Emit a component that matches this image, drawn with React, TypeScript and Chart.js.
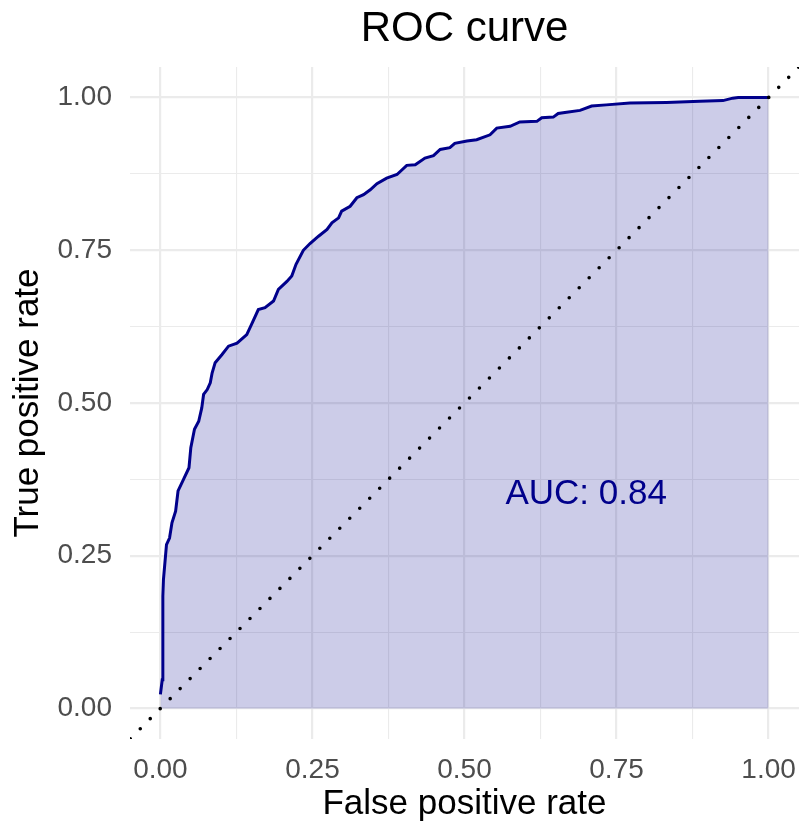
import React, { useEffect, useRef } from "react";
import { Chart, registerables } from "chart.js";

Chart.register(...registerables);

// ROC curve points (false positive rate, true positive rate)
const fpr = [
  0, 0.003, 0.004, 0.005, 0.01, 0.015, 0.019, 0.025, 0.029, 0.038, 0.047, 0.05,
  0.056, 0.063, 0.068, 0.071, 0.077, 0.082, 0.085, 0.09, 0.101, 0.112, 0.126,
  0.142, 0.151, 0.161, 0.172, 0.186, 0.194, 0.208, 0.216, 0.223, 0.235, 0.246,
  0.26, 0.274, 0.282, 0.293, 0.298, 0.312, 0.323, 0.334, 0.345, 0.356, 0.372,
  0.389, 0.405, 0.419, 0.435, 0.449, 0.46, 0.476, 0.484, 0.504, 0.52, 0.542,
  0.553, 0.575, 0.591, 0.619, 0.627, 0.646, 0.654, 0.668, 0.69, 0.709, 0.733,
  0.772, 0.832, 0.887, 0.925, 0.941, 0.95, 1.0,
];
const tpr = [
  0.023, 0.047, 0.184, 0.211, 0.268, 0.279, 0.304, 0.323, 0.356, 0.375, 0.394,
  0.427, 0.457, 0.47, 0.492, 0.514, 0.522, 0.533, 0.549, 0.566, 0.579, 0.593,
  0.598, 0.612, 0.631, 0.653, 0.656, 0.667, 0.686, 0.699, 0.708, 0.727, 0.75,
  0.761, 0.773, 0.784, 0.795, 0.803, 0.814, 0.822, 0.836, 0.841, 0.849, 0.859,
  0.868, 0.874, 0.889, 0.89, 0.901, 0.905, 0.915, 0.918, 0.925, 0.929, 0.931,
  0.939, 0.95, 0.953, 0.96, 0.961, 0.967, 0.968, 0.974, 0.976, 0.979, 0.986,
  0.988, 0.991, 0.992, 0.994, 0.995, 0.999, 1.0, 1.0,
];

// chance diagonal (spans the whole panel)
const chanceX = [-0.05, 1.05];
const chanceY = [-0.05, 1.05];

const majorTicks = [0, 0.25, 0.5, 0.75, 1];
const minorTicks = [0.125, 0.375, 0.625, 0.875];

const titleText = "ROC curve";
const xTitle = "False positive rate";
const yTitle = "True positive rate";
const aucText = "AUC: 0.84";
const aucX = 0.7;
const aucY = 0.35;

export default function App() {
  const ref = useRef<HTMLCanvasElement>(null);

  useEffect(() => {
    const family = "'Liberation Sans', Arial, Helvetica, sans-serif";
    const allTicks = [...majorTicks, ...minorTicks].sort((a, b) => a - b);
    const isMajor = (v: number) => majorTicks.some((m) => Math.abs(m - v) < 1e-9);
    const setTicks = (axis: any) => {
      axis.ticks = allTicks.map((v) => ({ value: v }));
    };

    const textPlugin = {
      id: "textLabels",
      afterDatasetsDraw(chart: any) {
        const { ctx, scales, chartArea } = chart;
        ctx.save();
        ctx.font = `35px ${family}`;
        ctx.fillStyle = "#00008B";
        ctx.textAlign = "center";
        ctx.textBaseline = "middle";
        ctx.fillText(
          aucText,
          scales.x.getPixelForValue(aucX),
          scales.y.getPixelForValue(aucY)
        );
        ctx.font = `42px ${family}`;
        ctx.fillStyle = "#000000";
        ctx.fillText(titleText, (chartArea.left + chartArea.right) / 2, 29);
        ctx.restore();
      },
    };

    const gridOpts = {
      color: "#EBEBEB",
      lineWidth: (c: any) => (c.tick && isMajor(c.tick.value) ? 2.2 : 1.1),
      drawTicks: false,
    };

    const chart = new Chart(ref.current!, {
      type: "line",
      data: {
        datasets: [
          {
            data: chanceX.map((v, i) => ({ x: v, y: chanceY[i] })),
            borderColor: "#000000",
            borderWidth: 3.6,
            borderDash: [0, 14.14],
            borderDashOffset: -0.4,
            borderCapStyle: "round",
            pointRadius: 0,
            fill: false,
            order: 0,
          },
          {
            data: fpr.map((v, i) => ({ x: v, y: tpr[i] })),
            borderColor: "#00008B",
            backgroundColor: "rgba(0,0,139,0.2)",
            borderWidth: 3,
            fill: "origin",
            pointRadius: 0,
            tension: 0,
            order: 1,
          },
        ],
      } as any,
      options: {
        responsive: false,
        animation: false,
        devicePixelRatio: 1,
        layout: { padding: { left: 0, right: 13, top: 67, bottom: 0 } },
        plugins: {
          legend: { display: false },
          tooltip: { enabled: false },
          title: { display: false },
        },
        scales: {
          x: {
            type: "linear",
            min: -0.05,
            max: 1.05,
            afterBuildTicks: setTicks,
            afterFit: (a: any) => {
              a.height = 94;
            },
            grid: gridOpts,
            border: { display: false },
            ticks: {
              autoSkip: false,
              maxRotation: 0,
              padding: 14,
              color: "#4D4D4D",
              font: { family, size: 28 },
              callback: (v: any) => (isMajor(Number(v)) ? Number(v).toFixed(2) : ""),
            },
            title: {
              display: true,
              text: xTitle,
              color: "#000000",
              font: { family, size: 35 },
              padding: { top: 0, bottom: 8 },
            },
          },
          y: {
            type: "linear",
            min: -0.05,
            max: 1.05,
            afterBuildTicks: setTicks,
            afterFit: (a: any) => {
              a.width = 130;
            },
            grid: gridOpts,
            border: { display: false },
            ticks: {
              autoSkip: false,
              padding: 18,
              color: "#4D4D4D",
              font: { family, size: 28 },
              callback: (v: any) => (isMajor(Number(v)) ? Number(v).toFixed(2) : ""),
            },
            title: {
              display: true,
              text: yTitle,
              color: "#000000",
              font: { family, size: 35 },
              padding: { top: 7, bottom: 0 },
            },
          },
        },
      } as any,
      plugins: [textPlugin],
    });

    return () => chart.destroy();
  }, []);

  return (
    <div style={{ position: "fixed", left: 0, top: 0, width: 812, height: 833, background: "#ffffff" }}>
      <canvas ref={ref} width={812} height={833} style={{ width: 812, height: 833 }} />
    </div>
  );
}
